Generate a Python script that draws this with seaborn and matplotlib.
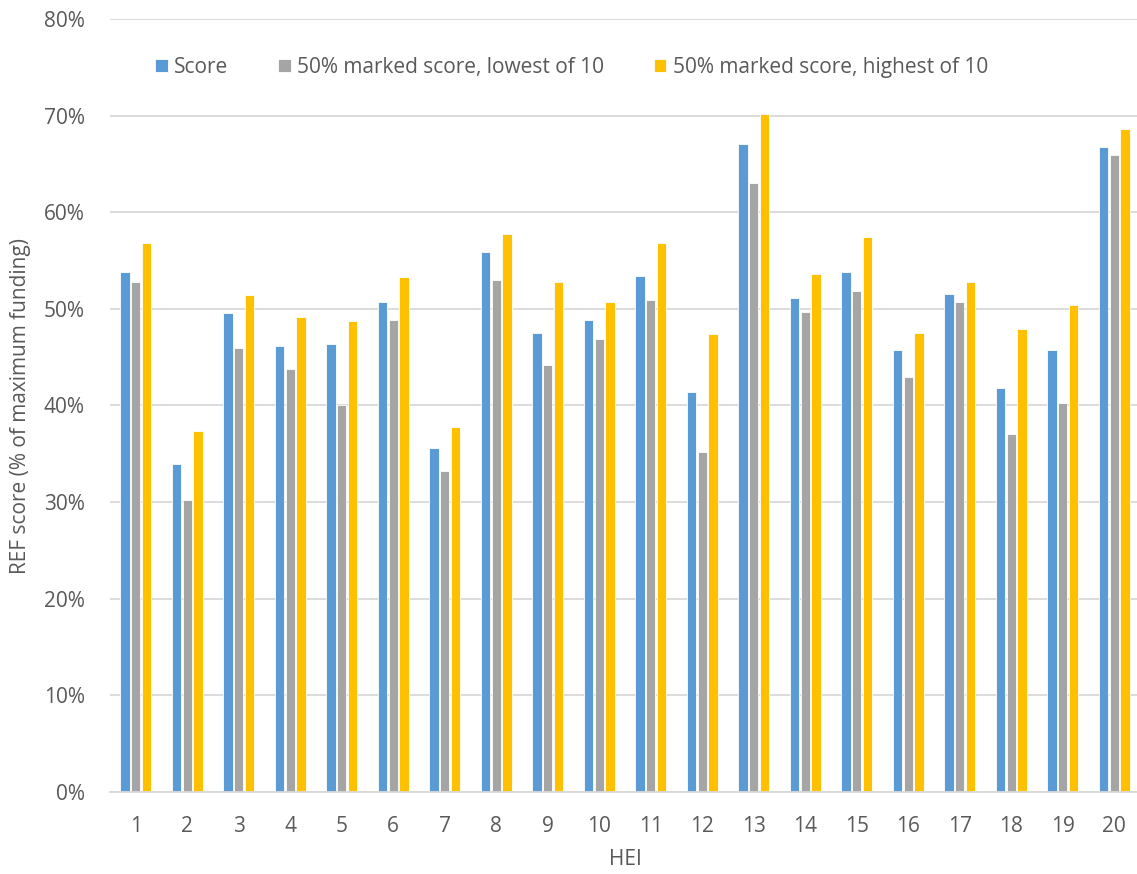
import pandas as pd
import matplotlib.pyplot as plt
import seaborn as sns
from matplotlib.ticker import FuncFormatter, MultipleLocator, FixedLocator

hei = [str(i) for i in range(1, 21)]
score = [53.8, 33.9, 49.6, 46.2, 46.4, 50.7, 35.6, 55.9, 47.5, 48.8,
         53.4, 41.4, 67.1, 51.1, 53.8, 45.7, 51.5, 41.8, 45.7, 66.8]
lowest = [52.8, 30.2, 46.0, 43.8, 40.0, 48.8, 33.2, 53.0, 44.2, 46.9,
          50.9, 35.2, 63.0, 49.7, 51.9, 43.0, 50.7, 37.0, 40.3, 65.9]
highest = [56.8, 37.4, 51.4, 49.2, 48.7, 53.3, 37.8, 57.8, 52.8, 50.7,
           56.8, 47.4, 70.2, 53.6, 57.4, 47.5, 52.8, 47.9, 50.4, 68.6]
series = ["Score", "50% marked score, lowest of 10", "50% marked score, highest of 10"]
colors = ["#5B9BD5", "#A5A5A5", "#FFC000"]

rows = []
for name, vals in zip(series, [score, lowest, highest]):
    for h, v in zip(hei, vals):
        rows.append({"HEI": h, "series": name, "value": v})
df = pd.DataFrame(rows)

sns.set_style("white")
plt.rcParams['font.family'] = ['Open Sans', 'DejaVu Sans']
txt = "#595959"

fig = plt.figure(figsize=(11.37, 8.74), dpi=100)
ax = fig.add_axes([110/1137, 1 - 792/874, 1030/1137, 773/874])

sns.barplot(data=df, x="HEI", y="value", hue="series", hue_order=series,
            palette=colors, width=0.62, gap=0.13, ax=ax, saturation=1,
            edgecolor="white", linewidth=0.6)

ax.set_ylim(0, 80)
ax.set_xlim(-0.5, 19.5)
ax.yaxis.set_major_locator(MultipleLocator(10))
ax.yaxis.set_major_formatter(FuncFormatter(lambda v, p: f"{v:.0f}%"))
ax.grid(axis="y", color="#D9D9D9", linewidth=1.3)
ax.set_axisbelow(True)
for s in ["top", "right", "left"]:
    ax.spines[s].set_visible(False)
ax.spines["bottom"].set_color("#D9D9D9")
ax.spines["bottom"].set_linewidth(1.3)

ax.xaxis.set_minor_locator(FixedLocator([i - 0.5 for i in range(21)]))
ax.tick_params(axis="x", which="major", length=0, pad=17, labelsize=15, labelcolor=txt)
ax.tick_params(axis="x", which="minor", length=5, width=1.3, color="#D9D9D9", direction="out")
ax.tick_params(axis="y", length=0, pad=18, labelsize=15, labelcolor=txt)

ax.set_xlabel("HEI", fontsize=15, color=txt, labelpad=9)
ax.set_ylabel("REF score (% of maximum funding)", fontsize=15, color=txt, labelpad=9)

ax.legend(loc="center", bbox_to_anchor=(0.448, 0.937), ncol=3, frameon=False,
          fontsize=15, handlelength=0.6, handleheight=0.6, handletextpad=0.3,
          columnspacing=2.4, labelcolor=txt)

fig.savefig("out.png", dpi=100)
